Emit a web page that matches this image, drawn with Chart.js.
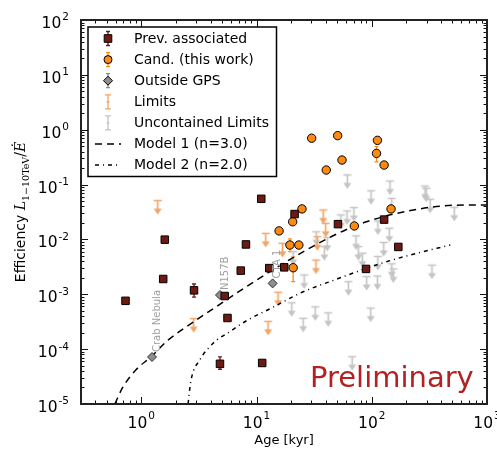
<!DOCTYPE html>
<html>
<head>
<meta charset="utf-8">
<script src="https://cdn.jsdelivr.net/npm/chart.js@4.4.0/dist/chart.umd.min.js"></script>
<style>
html, body { margin: 0; padding: 0; background: #fff; }
#wrap { width: 497px; height: 450px; position: relative; }
</style>
</head>
<body>
<div id="wrap"><canvas id="g_eff"></canvas></div>
<script>
// Prev. associated
const prevAge = [0.73, 1.55, 1.60, 2.87, 4.82, 5.3, 5.6, 7.3, 8.1, 11.0, 11.2, 12.9, 17.4, 21.4, 50.9, 89.2, 128, 170];
const prevEff = [7.6e-4, 1.9e-3, 9.9e-3, 1.18e-3, 5.4e-5, 9.3e-4, 3.7e-4, 2.7e-3, 8.1e-3, 0.055, 5.6e-5, 3.0e-3, 3.1e-3, 0.029, 0.019, 2.9e-3, 0.023, 7.3e-3];
const prevErr = [[3, 8.9e-4, 1.54e-3], [4, 4.3e-5, 7.2e-5]];
// Cand. (this work)
const candAge = [30.1, 50.6, 112, 110, 55.2, 40.3, 128, 24.8, 147, 20.6, 15.7, 70.6, 19.5, 23.3, 20.8];
const candEff = [0.70, 0.78, 0.64, 0.37, 0.28, 0.184, 0.227, 0.036, 0.036, 0.021, 0.0143, 0.0176, 7.9e-3, 7.9e-3, 3.05e-3];
const candErr = [[3, 0.26, 0.49], [12, 6.0e-3, 0.0102], [14, 1.7e-3, 4.8e-3]];
// Outside GPS
const outAge = [1.24, 4.82, 13.8];
const outEff = [7.2e-5, 9.7e-4, 1.58e-3];
const outName = ['Crab Nebula', 'N157B', 'CTA 1'];
// Limits
const limAge = [1.39, 2.85, 12.0, 12.6, 15.4, 16.8, 32.8, 33.7, 37.9, 39.8];
const limEff = [0.051, 3.6e-4, 0.0129, 3.2e-4, 1.09e-3, 8.5e-3, 4.2e-3, 0.0112, 0.0344, 0.0197];
// Uncontained limits
const ulAge = [61.4, 98.6, 144, 149, 290, 297, 321, 520, 54, 61, 70, 113, 142, 127, 73, 76.5, 83, 33, 41.1, 38.8, 20.8, 25.9, 20.2, 32.3, 25.4, 41.9, 62.7, 90.3, 112, 98, 149, 154, 333, 67.6, 113];
const ulEff = [0.15, 0.077, 0.116, 0.056, 0.094, 0.0855, 0.054, 0.0386, 0.028, 0.033, 0.038, 0.0217, 0.016, 8.8e-3, 0.0116, 7.4e-3, 5.6e-3, 0.0138, 0.0109, 7.4e-3, 6.0e-3, 2.25e-3, 7.0e-4, 5.9e-4, 3.65e-4, 4.6e-4, 1.7e-3, 2.1e-3, 2.15e-3, 5.6e-4, 3.6e-3, 2.9e-3, 3.4e-3, 7.3e-5, 4.9e-3];
// Models
const m1Age = [0.59, 0.69, 0.9, 1.22, 1.7, 2.15, 3.67, 8.2, 13.9, 27, 53, 90, 229, 515, 1000];
const m1Eff = [1e-5, 2.0e-5, 4.2e-5, 7.3e-5, 1.45e-4, 2.1e-4, 4.5e-4, 1.38e-3, 2.8e-3, 6.4e-3, 0.0134, 0.021, 0.0344, 0.0419, 0.0425];
const m2Age = [2.55, 2.6, 2.72, 3.21, 4.2, 5.86, 8.2, 13.9, 24, 50, 118, 215, 480];
const m2Eff = [1.0e-5, 1.5e-5, 2.9e-5, 6.3e-5, 1.28e-4, 2.08e-4, 3.3e-4, 5.8e-4, 1.05e-3, 1.9e-3, 3.6e-3, 5.2e-3, 7.9e-3];
// ticks
const xTicks = [1, 10, 100, 1000];
const xExp = ['0', '1', '2', '3'];
const yTicks = [1e-5, 1e-4, 1e-3, 1e-2, 1e-1, 1, 10, 100];
const yExp = ['-5', '-4', '-3', '-2', '-1', '0', '1', '2'];
const legendLabels = ['Prev. associated', 'Cand. (this work)', 'Outside GPS', 'Limits', 'Uncontained Limits', 'Model 1 (n=3.0)', 'Model 2 (n=2.0)'];

const C_PREV = '#6e1a12', C_CAND = '#ff8a12', C_OUT = '#8e8e8e', C_LIM = '#f2a468', C_UL = '#c4c4c4';
const FONT = '"DejaVu Sans", sans-serif';

function pts(xs, ys) { return xs.map((x, i) => ({ x: x, y: ys[i] })); }

// upper limit marker: cap at the value, arrow pointing down
function limitSymbol(color) {
    const c = document.createElement('canvas');
    c.width = 11; c.height = 31;
    const g = c.getContext('2d');
    g.strokeStyle = color; g.fillStyle = color; g.lineWidth = 1.6;
    g.beginPath();
    g.moveTo(1.5, 15.5); g.lineTo(9.5, 15.5);
    g.moveTo(5.5, 15.5); g.lineTo(5.5, 25);
    g.stroke();
    g.beginPath();
    g.moveTo(1.5, 23.5); g.lineTo(9.5, 23.5); g.lineTo(5.5, 29.5); g.closePath();
    g.fill();
    return c;
}

function errBars(ctx, chart, xs, ys, errs, color) {
    const sx = chart.scales.x, sy = chart.scales.y;
    ctx.strokeStyle = color; ctx.lineWidth = 1.3;
    errs.forEach(e => {
        const px = sx.getPixelForValue(xs[e[0]]);
        const y1 = sy.getPixelForValue(e[1]), y2 = sy.getPixelForValue(e[2]);
        ctx.beginPath();
        ctx.moveTo(px, y1); ctx.lineTo(px, y2);
        ctx.moveTo(px - 2, y1); ctx.lineTo(px + 2, y1);
        ctx.moveTo(px - 2, y2); ctx.lineTo(px + 2, y2);
        ctx.stroke();
    });
}

function powLabel(ctx, e, x, y, align, dy) {
    ctx.font = '15.5px ' + FONT;
    const w1 = ctx.measureText('10').width;
    ctx.font = '10.5px ' + FONT;
    const w2 = ctx.measureText(e).width;
    const tot = w1 + 1 + w2;
    const x0 = align === 'right' ? x - tot : x - tot / 2;
    ctx.textAlign = 'left'; ctx.textBaseline = 'alphabetic';
    ctx.font = '15.5px ' + FONT;
    ctx.fillText('10', x0, y);
    ctx.font = '10.5px ' + FONT;
    ctx.fillText(e, x0 + w1 + 1, y - dy);
}

const decor = {
    id: 'decor',
    beforeDatasetsDraw(chart) {
        const ctx = chart.ctx;
        ctx.save();
        errBars(ctx, chart, prevAge, prevEff, prevErr, C_PREV);
        errBars(ctx, chart, candAge, candEff, candErr, C_CAND);
        ctx.restore();
    },
    afterDatasetsDraw(chart) {
        const ctx = chart.ctx, a = chart.chartArea;
        const sx = chart.scales.x, sy = chart.scales.y;
        ctx.save();
        // ticks, inward on all four sides
        ctx.strokeStyle = '#111'; ctx.lineWidth = 1;
        ctx.beginPath();
        for (let d = -1; d <= 3; d++) {
            for (let m = 1; m <= 9; m++) {
                const v = m * Math.pow(10, d);
                if (v < 0.3 || v > 1000) continue;
                const px = Math.round(sx.getPixelForValue(v)) + 0.5;
                const len = m === 1 ? 7 : 3.5;
                ctx.moveTo(px, a.bottom); ctx.lineTo(px, a.bottom - len);
                ctx.moveTo(px, a.top); ctx.lineTo(px, a.top + len);
            }
        }
        for (let d = -5; d <= 2; d++) {
            for (let m = 1; m <= 9; m++) {
                const v = m * Math.pow(10, d);
                if (v > 100) continue;
                const py = Math.round(sy.getPixelForValue(v)) + 0.5;
                const len = m === 1 ? 7 : 3.5;
                ctx.moveTo(a.left, py); ctx.lineTo(a.left + len, py);
                ctx.moveTo(a.right, py); ctx.lineTo(a.right - len, py);
            }
        }
        ctx.stroke();
        // frame
        ctx.strokeStyle = '#222'; ctx.lineWidth = 2;
        ctx.strokeRect(a.left, a.top, a.right - a.left, a.bottom - a.top);
        // tick labels
        ctx.fillStyle = '#000';
        xTicks.forEach((v, i) => powLabel(ctx, xExp[i], sx.getPixelForValue(v), a.bottom + 24, 'center', 9));
        yTicks.forEach((v, i) => powLabel(ctx, yExp[i], 69, sy.getPixelForValue(v) + 8, 'right', 7.6));
        // axis titles
        ctx.font = '13px ' + FONT; ctx.textAlign = 'center'; ctx.textBaseline = 'middle';
        ctx.fillText('Age [kyr]', (a.left + a.right) / 2, 441);
        ctx.save();
        ctx.translate(20, (a.top + a.bottom) / 2);
        ctx.rotate(-Math.PI / 2);
        const parts = [
            ['Efficiency ', '14px ' + FONT, 0],
            ['L', 'italic 14px "DejaVu Serif", serif', 0],
            ['1\u221210TeV', '9.5px "DejaVu Serif", serif', 4],
            ['/', '14px "DejaVu Serif", serif', 0],
            ['\u0116', 'italic 14px "DejaVu Serif", serif', 0]
        ];
        let tw = 0;
        parts.forEach(p => { ctx.font = p[1]; tw += ctx.measureText(p[0]).width; });
        let cx = -tw / 2;
        ctx.textAlign = 'left'; ctx.textBaseline = 'alphabetic';
        parts.forEach(p => { ctx.font = p[1]; ctx.fillText(p[0], cx, 5 + p[2]); cx += ctx.measureText(p[0]).width; });
        ctx.restore();
        // source names
        ctx.fillStyle = '#a0a0a0'; ctx.font = '10px ' + FONT;
        outName.forEach((n, i) => {
            const px = sx.getPixelForValue(outAge[i]), py = sy.getPixelForValue(outEff[i]);
            ctx.save();
            ctx.translate(px + 5.2, py - 5);
            ctx.rotate(-Math.PI / 2);
            ctx.textAlign = 'left'; ctx.textBaseline = 'middle';
            ctx.fillText(n, 0, 0);
            ctx.restore();
        });
        // legend
        const L = 88, T = 27, R = 276.5, B = 176.5;
        ctx.fillStyle = '#fff'; ctx.fillRect(L, T, R - L, B - T);
        ctx.strokeStyle = '#000'; ctx.lineWidth = 1.5;
        ctx.strokeRect(L, T, R - L, B - T);
        const mx = 108;
        legendLabels.forEach((lab, i) => {
            const y = 38.5 + i * 21.1;
            ctx.lineWidth = 1.3;
            if (i < 3) {
                const col = [C_PREV, C_CAND, C_OUT][i];
                ctx.strokeStyle = col;
                ctx.beginPath();
                ctx.moveTo(mx, y - 7); ctx.lineTo(mx, y + 7);
                ctx.moveTo(mx - 2, y - 7); ctx.lineTo(mx + 2, y - 7);
                ctx.moveTo(mx - 2, y + 7); ctx.lineTo(mx + 2, y + 7);
                ctx.stroke();
                ctx.fillStyle = col; ctx.strokeStyle = '#000'; ctx.lineWidth = 1;
                ctx.beginPath();
                if (i === 0) ctx.rect(mx - 3.8, y - 3.8, 7.6, 7.6);
                else if (i === 1) ctx.arc(mx, y, 4, 0, Math.PI * 2);
                else { ctx.moveTo(mx, y - 4.5); ctx.lineTo(mx + 4.5, y); ctx.lineTo(mx, y + 4.5); ctx.lineTo(mx - 4.5, y); ctx.closePath(); }
                ctx.fill(); ctx.stroke();
            } else if (i < 5) {
                ctx.strokeStyle = i === 3 ? C_LIM : C_UL;
                ctx.beginPath();
                ctx.moveTo(mx, y - 7); ctx.lineTo(mx, y + 7);
                ctx.moveTo(mx - 3, y - 7); ctx.lineTo(mx + 3, y - 7);
                ctx.moveTo(mx - 3, y + 7); ctx.lineTo(mx + 3, y + 7);
                ctx.moveTo(mx - 1.5, y); ctx.lineTo(mx + 1.5, y);
                ctx.stroke();
            } else {
                ctx.strokeStyle = '#000'; ctx.lineWidth = 1.5;
                ctx.setLineDash(i === 5 ? [7, 5] : [4, 4, 1, 4]);
                ctx.beginPath(); ctx.moveTo(95, y); ctx.lineTo(121, y); ctx.stroke();
                ctx.setLineDash([]);
            }
            ctx.fillStyle = '#000'; ctx.font = '14px ' + FONT;
            ctx.textAlign = 'left'; ctx.textBaseline = 'middle';
            ctx.fillText(lab, 134, y + 0.5);
        });
        // watermark
        ctx.fillStyle = '#b22222'; ctx.font = '29px ' + FONT;
        ctx.textAlign = 'left'; ctx.textBaseline = 'alphabetic';
        ctx.fillText('Preliminary', 310, 387);
        ctx.restore();
    }
};

const ctx = document.getElementById('g_eff').getContext('2d');
const g_eff = new Chart(ctx, {
    type: 'scatter',
    data: {
        datasets: [{
            label: 'Prev. associated',
            data: pts(prevAge, prevEff),
            pointStyle: 'rect', pointRadius: 5.3,
            backgroundColor: C_PREV, borderColor: '#000', borderWidth: 1
        }, {
            label: 'Cand. (this work)',
            data: pts(candAge, candEff),
            pointStyle: 'circle', pointRadius: 4.2,
            backgroundColor: C_CAND, borderColor: '#000', borderWidth: 1
        }, {
            label: 'Outside GPS',
            data: pts(outAge, outEff),
            pointStyle: 'rectRot', pointRadius: 4.5,
            backgroundColor: C_OUT, borderColor: '#333', borderWidth: 1
        }, {
            label: 'Model 1 (n=3.0)',
            data: pts(m1Age, m1Eff),
            showLine: true, pointRadius: 0, borderColor: '#000', borderWidth: 1.5,
            borderDash: [7, 5], cubicInterpolationMode: 'monotone', fill: false
        }, {
            label: 'Model 2 (n=2.0)',
            data: pts(m2Age, m2Eff),
            showLine: true, pointRadius: 0, borderColor: '#000', borderWidth: 1.5,
            borderDash: [4, 4, 1, 4], cubicInterpolationMode: 'monotone', fill: false
        }, {
            label: 'Limits',
            data: pts(limAge, limEff),
            pointStyle: limitSymbol(C_LIM)
        }, {
            label: 'Uncontained Limits',
            data: pts(ulAge, ulEff),
            pointStyle: limitSymbol(C_UL)
        }]
    },
    options: {
        responsive: true,
        maintainAspectRatio: false,
        animation: false,
        events: [],
        layout: { padding: { left: 81, right: 10, top: 20, bottom: 46 } },
        plugins: { legend: { display: false }, tooltip: { enabled: false } },
        scales: {
            x: { type: 'logarithmic', min: 0.3, max: 1000, display: false },
            y: { type: 'logarithmic', min: 1e-5, max: 100, display: false }
        }
    },
    plugins: [decor]
});
</script>
</body>
</html>
